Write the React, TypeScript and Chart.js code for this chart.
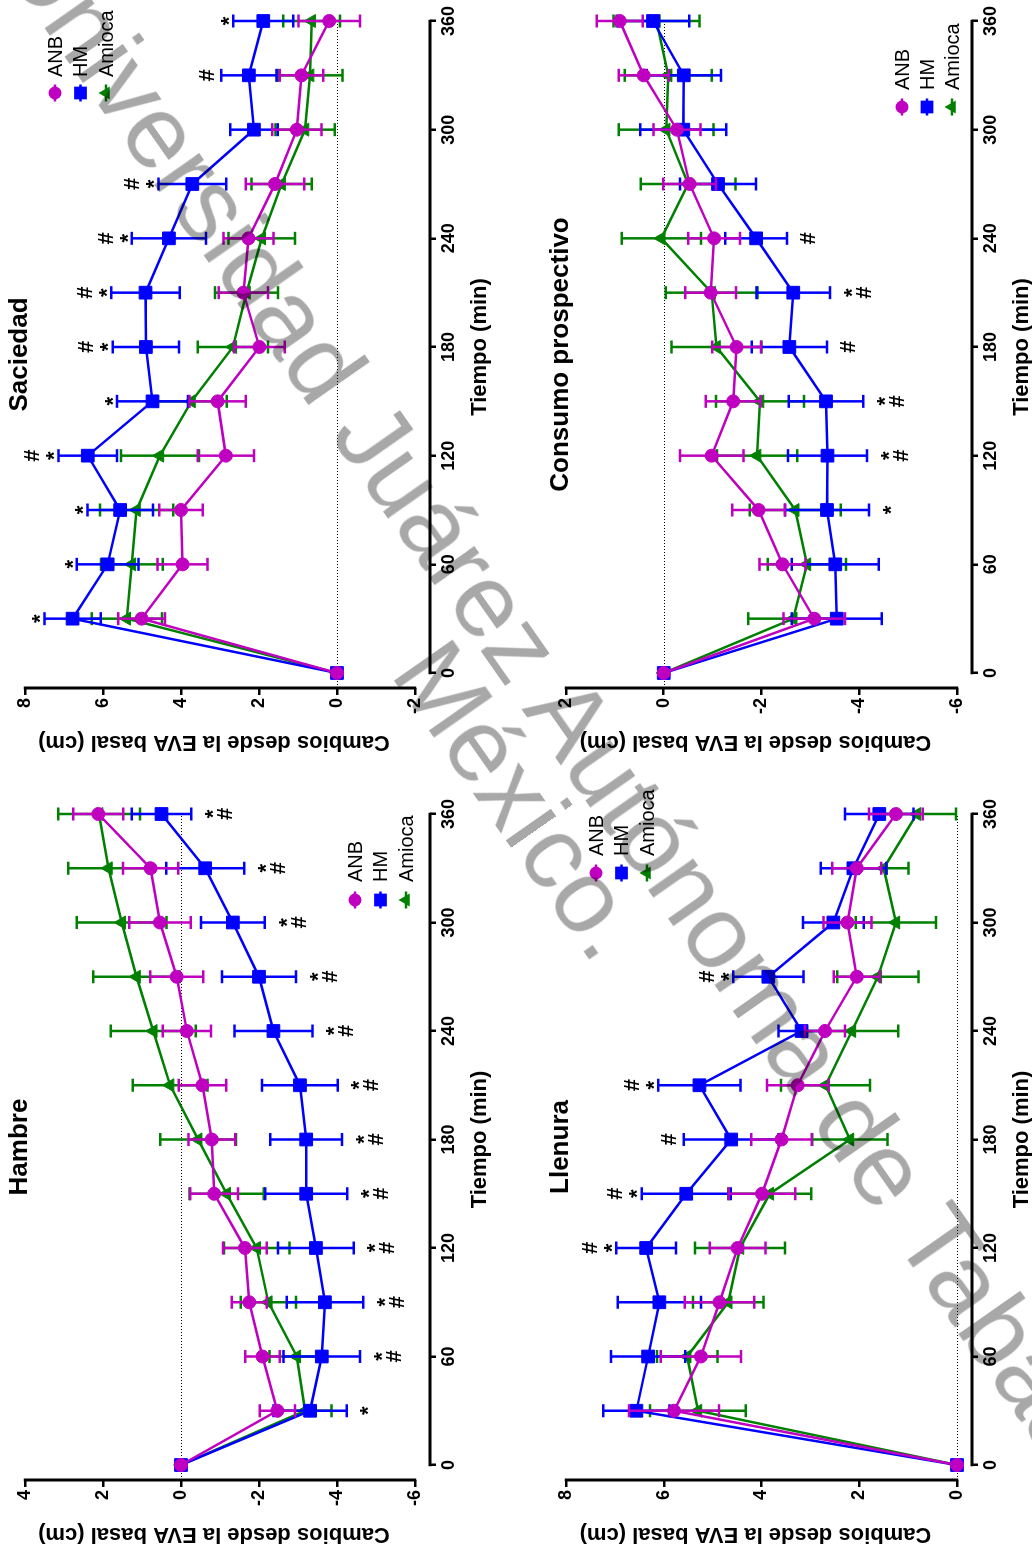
import React, { useEffect, useRef } from 'react';
import { Chart, registerables } from 'chart.js';

Chart.register(...registerables);

const FONT = "'Liberation Sans', Arial, Helvetica, sans-serif";

// ---------- data ----------
const times = [0, 30, 60, 90, 120, 150, 180, 210, 240, 270, 300, 330, 360];
const timeTicks = [0, 60, 120, 180, 240, 300, 360];
const seriesNames = ['ANB', 'HM', 'Amioca'];

// Hambre
const hambreTicks = [-6, -4, -2, 0, 2, 4];
const hambreANB = [0, -2.47, -2.09, -1.75, -1.64, -0.85, -0.79, -0.55, -0.15, 0.11, 0.54, 0.78, 2.12];
const hambreANBErr = [0, 0.45, 0.44, 0.45, 0.56, 0.61, 0.6, 0.61, 0.62, 0.68, 0.79, 0.71, 0.64];
const hambreHM = [0, -3.31, -3.61, -3.69, -3.46, -3.21, -3.21, -3.05, -2.37, -2.0, -1.33, -0.62, 0.5];
const hambreHMErr = [0, 0.94, 0.98, 0.98, 0.97, 1.05, 0.92, 0.97, 1.0, 0.95, 0.82, 1.0, 0.76];
const hambreAmioca = [0, -3.18, -2.97, -2.24, -1.94, -1.17, -0.44, 0.28, 0.71, 1.14, 1.52, 1.86, 2.1];
const hambreAmiocaErr = [0, 0.68, 0.7, 0.71, 0.84, 0.95, 0.97, 0.96, 1.09, 1.11, 1.15, 1.03, 1.05];
const hambreSig = ['', '*', '*#', '*#', '*#', '*#', '*#', '*#', '*#', '*#', '*#', '*#', '*#'];

// Saciedad
const saciedadTicks = [-2, 0, 2, 4, 6, 8];
const saciedadANB = [0, 5.01, 3.96, 4.0, 2.85, 3.06, 1.99, 2.4, 2.27, 1.59, 1.03, 0.91, 0.2];
const saciedadANBErr = [0, 0.6, 0.64, 0.56, 0.72, 0.72, 0.65, 0.63, 0.64, 0.75, 0.63, 0.56, 0.79];
const saciedadHM = [0, 6.78, 5.88, 5.56, 6.39, 4.73, 4.9, 4.91, 4.31, 3.71, 2.13, 2.26, 1.89];
const saciedadHMErr = [0, 0.72, 0.79, 0.84, 0.75, 0.91, 0.85, 0.88, 0.95, 0.87, 0.61, 0.71, 0.77];
const saciedadAmioca = [0, 5.39, 5.26, 5.14, 4.54, 3.73, 2.67, 2.32, 1.93, 1.42, 0.82, 0.69, 0.65];
const saciedadAmiocaErr = [0, 0.9, 0.79, 0.94, 1.0, 0.9, 0.9, 0.81, 0.85, 0.77, 0.76, 0.83, 0.73];
const saciedadSig = ['', '*', '*', '*', '*#', '*', '*#', '*#', '*#', '*#', '', '#', '*'];

// Llenura
const llenuraTicks = [0, 2, 4, 6, 8];
const llenuraANB = [0, 5.79, 5.24, 4.86, 4.49, 3.99, 3.59, 3.26, 2.7, 2.05, 2.24, 2.05, 1.25];
const llenuraANBErr = [0, 0.92, 0.82, 0.71, 0.57, 0.68, 0.62, 0.63, 0.41, 0.47, 0.49, 0.5, 0.55];
const llenuraHM = [0, 6.56, 6.32, 6.09, 6.36, 5.54, 4.62, 5.27, 3.18, 3.86, 2.53, 2.12, 1.59];
const llenuraHMErr = [0, 0.68, 0.76, 0.85, 0.61, 0.91, 0.97, 0.84, 0.47, 0.72, 0.62, 0.67, 0.7];
const llenuraAmioca = [0, 5.3, 5.52, 4.68, 4.44, 3.83, 2.19, 2.69, 2.15, 1.62, 1.25, 1.5, 0.82];
const llenuraAmiocaErr = [0, 0.98, 0.62, 0.72, 0.92, 0.85, 0.77, 0.91, 0.95, 0.83, 0.82, 0.51, 0.8];
const llenuraSig = ['', '', '', '', '*#', '*#', '#', '*#', '', '*#', '', '', ''];

// Consumo prospectivo
const consumoTicks = [-6, -4, -2, 0, 2];
const consumoANB = [0, -3.08, -2.43, -1.94, -0.98, -1.42, -1.49, -0.96, -1.03, -0.53, -0.27, 0.41, 0.9];
const consumoANBErr = [0, 0.63, 0.47, 0.54, 0.65, 0.56, 0.5, 0.52, 0.53, 0.54, 0.48, 0.51, 0.47];
const consumoHM = [0, -3.54, -3.51, -3.34, -3.35, -3.32, -2.57, -2.65, -1.89, -1.11, -0.4, -0.41, 0.22];
const consumoHMErr = [0, 0.92, 0.89, 0.86, 0.81, 0.76, 0.77, 0.75, 0.63, 0.78, 0.88, 0.76, 0.74];
const consumoAmioca = [0, -2.65, -2.93, -2.69, -1.91, -1.97, -1.08, -0.98, 0.05, -0.5, -0.05, -0.09, 0.15];
const consumoAmiocaErr = [0, 0.92, 0.8, 0.93, 0.82, 0.9, 0.92, 0.94, 0.81, 0.97, 0.97, 0.89, 0.88];
const consumoSig = ['', '', '', '*', '*#', '*#', '#', '*#', '#', '', '', '', ''];

// ---------- styles ----------
const seriesColors = ['#C000C0', '#0000FF', '#008000'];
const pointStyles = ['circle', 'rect', 'triangle'];
const pointRadii = [6.5, 9, 7.5];

type Area = { l: number; t: number; r: number; b: number };
type PanelCfg = {
  title: string;
  left: number; top: number; w: number; h: number;
  area: Area;
  yTicks: number[];
  values: number[][];
  errs: number[][];
  sig: string[];
  above: boolean;
  legend: { x: number; y: number; dy: number; textX: number };
};

const panels: PanelCfg[] = [
  {
    title: 'Hambre', left: 0, top: 0, w: 779, h: 505,
    area: { l: 77, t: 25, r: 743, b: 430 },
    yTicks: hambreTicks,
    values: [hambreANB, hambreHM, hambreAmioca],
    errs: [hambreANBErr, hambreHMErr, hambreAmiocaErr],
    sig: hambreSig, above: false,
    legend: { x: 657, y: 355, dy: 25.5, textX: 675 },
  },
  {
    title: 'Saciedad', left: 779, top: 0, w: 778, h: 505,
    area: { l: 90, t: 25, r: 757, b: 430 },
    yTicks: saciedadTicks,
    values: [saciedadANB, saciedadHM, saciedadAmioca],
    errs: [saciedadANBErr, saciedadHMErr, saciedadAmiocaErr],
    sig: saciedadSig, above: true,
    legend: { x: 685, y: 55, dy: 25.5, textX: 701 },
  },
  {
    title: 'Llenura', left: 0, top: 505, w: 779, h: 527,
    area: { l: 77, t: 61, r: 743, b: 467 },
    yTicks: llenuraTicks,
    values: [llenuraANB, llenuraHM, llenuraAmioca],
    errs: [llenuraANBErr, llenuraHMErr, llenuraAmiocaErr],
    sig: llenuraSig, above: true,
    legend: { x: 684, y: 91, dy: 25.5, textX: 701 },
  },
  {
    title: 'Consumo prospectivo', left: 779, top: 505, w: 778, h: 527,
    area: { l: 90, t: 61, r: 757, b: 467 },
    yTicks: consumoTicks,
    values: [consumoANB, consumoHM, consumoAmioca],
    errs: [consumoANBErr, consumoHMErr, consumoAmiocaErr],
    sig: consumoSig, above: false,
    legend: { x: 671, y: 397, dy: 25, textX: 688 },
  },
];

const GAP = 15;
const SIG_SIZE = 22;

function drawMarker(ctx: CanvasRenderingContext2D, k: number, x: number, y: number) {
  const style = pointStyles[k];
  const r = pointRadii[k];
  ctx.fillStyle = seriesColors[k];
  ctx.beginPath();
  if (style === 'circle') {
    ctx.arc(x, y, r, 0, Math.PI * 2);
  } else if (style === 'rect') {
    const s = Math.SQRT1_2 * r;
    ctx.rect(x - s, y - s, 2 * s, 2 * s);
  } else {
    ctx.moveTo(x, y - r);
    ctx.lineTo(x + r * Math.sin((2 * Math.PI) / 3), y - r * Math.cos((2 * Math.PI) / 3));
    ctx.lineTo(x + r * Math.sin((4 * Math.PI) / 3), y - r * Math.cos((4 * Math.PI) / 3));
    ctx.closePath();
  }
  ctx.fill();
}

function makeDeco(cfg: PanelCfg) {
  const yMaxTick = Math.max(...cfg.yTicks);
  const yMinTick = Math.min(...cfg.yTicks);
  return {
    id: 'deco' + cfg.title.replace(/\s/g, ''),
    beforeDatasetsDraw(chart: any) {
      const { ctx, chartArea } = chart;
      const xs = chart.scales.x;
      const ys = chart.scales.y;
      ctx.save();
      ctx.strokeStyle = '#000';
      ctx.lineWidth = 1;
      ctx.setLineDash([1, 2]);
      const y0 = Math.round(ys.getPixelForValue(0)) + 0.5;
      ctx.beginPath();
      ctx.moveTo(chartArea.left, y0);
      ctx.lineTo(xs.getPixelForValue(360), y0);
      ctx.stroke();
      ctx.setLineDash([]);
      ctx.lineWidth = 3;
      ctx.beginPath();
      ctx.moveTo(xs.getPixelForValue(0) - 1.25, chartArea.bottom);
      ctx.lineTo(xs.getPixelForValue(360) + 1.25, chartArea.bottom);
      ctx.moveTo(chartArea.left, ys.getPixelForValue(yMaxTick) - 1.25);
      ctx.lineTo(chartArea.left, ys.getPixelForValue(yMinTick) + 1.25);
      ctx.stroke();
      ctx.restore();
    },
    beforeDatasetDraw(chart: any, args: any) {
      const k = args.index;
      const { ctx } = chart;
      const xs = chart.scales.x;
      const ys = chart.scales.y;
      const vals = cfg.values[k];
      const errs = cfg.errs[k];
      const cap = 6.5;
      ctx.save();
      ctx.strokeStyle = seriesColors[k];
      ctx.lineWidth = 2.5;
      ctx.beginPath();
      times.forEach((t, i) => {
        const e = errs[i];
        if (!e) return;
        const x = xs.getPixelForValue(t);
        const yt = ys.getPixelForValue(vals[i] + e);
        const yb = ys.getPixelForValue(vals[i] - e);
        ctx.moveTo(x, yt);
        ctx.lineTo(x, yb);
        ctx.moveTo(x - cap, yt);
        ctx.lineTo(x + cap, yt);
        ctx.moveTo(x - cap, yb);
        ctx.lineTo(x + cap, yb);
      });
      ctx.stroke();
      ctx.restore();
    },
    afterDraw(chart: any) {
      const { ctx, chartArea } = chart;
      const xs = chart.scales.x;
      const ys = chart.scales.y;
      ctx.save();
      ctx.fillStyle = '#000';
      // panel title
      ctx.font = `bold 26px ${FONT}`;
      ctx.textAlign = 'center';
      ctx.textBaseline = 'alphabetic';
      ctx.fillText(cfg.title, (chartArea.left + chartArea.right) / 2, chartArea.top + 1.5);
      // x axis title
      ctx.font = `bold 22px ${FONT}`;
      ctx.textBaseline = 'middle';
      ctx.fillText('Tiempo (min)', xs.getPixelForValue(180), chartArea.bottom + 49.5);
      // y axis title
      const yc = (ys.getPixelForValue(yMaxTick) + ys.getPixelForValue(yMinTick)) / 2 - 6;
      ctx.save();
      ctx.translate(chartArea.left - 54, yc);
      ctx.rotate(-Math.PI / 2);
      ctx.fillText('Cambios desde la EVA basal (cm)', 0, 0);
      ctx.restore();
      // legend
      const lg = cfg.legend;
      seriesNames.forEach((name, k) => {
        const y = lg.y + k * lg.dy;
        ctx.strokeStyle = seriesColors[k];
        ctx.lineWidth = 2.5;
        ctx.beginPath();
        ctx.moveTo(lg.x - 8.5, y);
        ctx.lineTo(lg.x + 8.5, y);
        ctx.stroke();
        drawMarker(ctx, k, lg.x, y);
        ctx.fillStyle = '#000';
        ctx.font = `20px ${FONT}`;
        ctx.textAlign = 'left';
        ctx.textBaseline = 'middle';
        ctx.fillText(name, lg.textX, y + 1);
      });
      // significance marks
      ctx.font = `bold ${SIG_SIZE}px ${FONT}`;
      ctx.textAlign = 'center';
      ctx.textBaseline = 'alphabetic';
      ctx.fillStyle = '#000';
      const hm = cfg.values[1];
      const he = cfg.errs[1];
      cfg.sig.forEach((s, i) => {
        if (!s) return;
        const x = xs.getPixelForValue(times[i]);
        const hasStar = s.includes('*');
        for (const ch of s) {
          let c: number;
          if (cfg.above) {
            const yEnd = ys.getPixelForValue(hm[i] + he[i]);
            c = ch === '*' ? yEnd - 10 : hasStar ? yEnd - 27 : yEnd - 15;
          } else {
            const yEnd = ys.getPixelForValue(hm[i] - he[i]);
            c = ch === '*' ? yEnd + 16 : hasStar ? yEnd + 33 : yEnd + 20;
          }
          const base = c + (ch === '*' ? 0.575 * SIG_SIZE : 0.35 * SIG_SIZE);
          ctx.fillText(ch, x, base);
        }
      });
      ctx.restore();
    },
  };
}

function Panel({ cfg }: { cfg: PanelCfg }) {
  const ref = useRef<HTMLCanvasElement>(null);
  useEffect(() => {
    const canvas = ref.current;
    if (!canvas) return;
    const { area, w, h, yTicks } = cfg;
    const yMaxTick = Math.max(...yTicks);
    const yMinTick = Math.min(...yTicks);
    const yMin = yMinTick - (GAP * (yMaxTick - yMinTick)) / (area.b - GAP - area.t);
    const xMin = -(GAP * 360) / (area.r - area.l - GAP);
    const datasets = seriesNames.map((name, k) => ({
      label: name,
      data: times.map((t, i) => ({ x: t, y: cfg.values[k][i] })),
      borderColor: seriesColors[k],
      backgroundColor: seriesColors[k],
      borderWidth: 2.5,
      pointStyle: pointStyles[k],
      pointRadius: pointRadii[k],
      pointBorderWidth: 1,
      pointBackgroundColor: seriesColors[k],
      pointBorderColor: seriesColors[k],
      tension: 0,
      fill: false,
      clip: false as any,
    }));
    const tickFont = { family: FONT, size: 18, weight: 'bold' as const };
    const chart = new Chart(canvas, {
      type: 'line',
      data: { datasets },
      options: {
        responsive: false,
        animation: false,
        devicePixelRatio: 1,
        events: [],
        layout: { padding: { left: 0, top: area.t, right: w - area.r, bottom: 0 }, autoPadding: false },
        plugins: { legend: { display: false }, title: { display: false }, tooltip: { enabled: false } },
        scales: {
          x: {
            type: 'linear',
            position: 'bottom',
            min: xMin,
            max: 360,
            afterBuildTicks: (s: any) => { s.ticks = timeTicks.map((v) => ({ value: v })); },
            afterFit: (s: any) => { s.height = h - area.b; },
            border: { display: false },
            grid: { display: true, drawOnChartArea: false, drawTicks: true, tickLength: 6, tickWidth: 2.5, tickColor: '#000', color: '#000', lineWidth: 2.5 },
            ticks: { color: '#000', font: tickFont, padding: 2, autoSkip: false, maxRotation: 0, minRotation: 0, callback: (v: any) => String(v) },
          },
          y: {
            type: 'linear',
            position: 'left',
            min: yMin,
            max: yMaxTick,
            afterBuildTicks: (s: any) => { s.ticks = yTicks.map((v) => ({ value: v })); },
            afterFit: (s: any) => { s.width = area.l; },
            border: { display: false },
            grid: { display: true, drawOnChartArea: false, drawTicks: true, tickLength: 7, tickWidth: 2.5, tickColor: '#000', color: '#000', lineWidth: 2.5 },
            ticks: { color: '#000', font: tickFont, padding: 3, autoSkip: false, callback: (v: any) => String(v) },
          },
        },
      } as any,
      plugins: [makeDeco(cfg) as any],
    });
    return () => chart.destroy();
  }, [cfg]);
  return (
    <canvas
      ref={ref}
      width={cfg.w}
      height={cfg.h}
      style={{ position: 'absolute', left: cfg.left, top: cfg.top, width: cfg.w, height: cfg.h }}
    />
  );
}

export default function App() {
  return (
    <div style={{ position: 'absolute', left: 0, top: 0, width: 1032, height: 1557, overflow: 'hidden', background: '#fff' }}>
      <div
        style={{
          position: 'absolute', left: 0, top: 0, width: 1557, height: 1032,
          transformOrigin: '0 0', transform: 'translateY(1557px) rotate(-90deg)',
        }}
      >
        {panels.map((p) => (
          <Panel key={p.title} cfg={p} />
        ))}
      </div>
      <div
        style={{
          position: 'absolute', left: 62.9, top: -84.6, transformOrigin: '0 0', transform: 'rotate(55deg)',
          fontFamily: FONT, fontSize: 104, lineHeight: '88px', color: 'rgba(0,0,0,0.34)',
          whiteSpace: 'nowrap', textAlign: 'center', width: 'max-content', pointerEvents: 'none',
        }}
      >
        Universidad Juárez Autónoma de Tabasco.
        <br />
        México.
      </div>
    </div>
  );
}
